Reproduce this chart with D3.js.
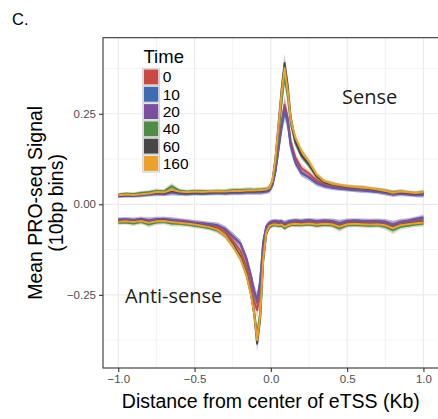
<!DOCTYPE html>
<html>
  <head>
        <meta charset="utf-8">
        <title>pro-seq etss</title>
        <style>
            body { margin: 0; background: #fff; }
        </style>
  </head>
  <body>
        <script src="https://cdn.jsdelivr.net/npm/d3@7"></script>
        <script>
            // x positions (Kb) shared by all series
            var xs = [-1.0, -0.95, -0.9, -0.85, -0.8, -0.75, -0.7, -0.65, -0.6, -0.55,
                      -0.5, -0.45, -0.4, -0.35, -0.3, -0.25, -0.2, -0.16, -0.13, -0.11,
                      -0.09, -0.07, -0.05, -0.03, -0.01, 0.01, 0.03, 0.05, 0.07, 0.09,
                      0.11, 0.13, 0.16, 0.2, 0.25, 0.3, 0.35, 0.4, 0.45, 0.5,
                      0.55, 0.6, 0.65, 0.7, 0.75, 0.8, 0.85, 0.9, 0.95, 1.0];

            var times = ["0", "10", "20", "40", "60", "160"];
            var colors = ["#c94a42", "#3d6bb4", "#7c509e", "#4f8d47", "#474747", "#eba12a"];

            // sense strand means
            var sense0 = [.026, .028, .027, .030, .031, .033, .032, .038, .033, .032,
                          .034, .033, .033, .034, .033, .035, .035, .036, .036, .036,
                          .036, .036, .037, .038, .041, .055, .095, .160, .225, .275,
                          .240, .175, .130, .100, .085, .066, .055, .050, .047, .045,
                          .043, .042, .040, .038, .034, .030, .033, .030, .028, .029];
            var sense10 = [.022, .023, .023, .025, .027, .029, .028, .033, .029, .028,
                           .030, .029, .030, .031, .030, .032, .032, .033, .033, .033,
                           .033, .033, .034, .035, .038, .052, .090, .150, .210, .255,
                           .225, .160, .115, .086, .074, .058, .050, .046, .043, .041,
                           .039, .038, .036, .034, .031, .027, .029, .027, .025, .026];
            var sense20 = [.023, .024, .024, .026, .028, .030, .029, .034, .030, .029,
                           .031, .030, .031, .032, .031, .033, .033, .034, .034, .034,
                           .034, .034, .035, .036, .039, .053, .092, .155, .220, .268,
                           .235, .165, .120, .088, .075, .060, .051, .047, .044, .042,
                           .040, .039, .037, .035, .032, .028, .030, .028, .026, .027];
            var sense40 = [.026, .029, .028, .031, .033, .037, .036, .050, .038, .035,
                           .037, .036, .035, .037, .036, .039, .039, .040, .040, .039,
                           .040, .040, .041, .042, .045, .062, .115, .195, .280, .355,
                           .300, .225, .170, .135, .108, .076, .060, .054, .051, .048,
                           .046, .044, .042, .040, .036, .032, .034, .032, .030, .032];
            var sense60 = [.024, .026, .025, .027, .029, .032, .031, .037, .033, .031,
                           .033, .032, .033, .034, .033, .035, .035, .036, .037, .036,
                           .037, .037, .038, .039, .043, .063, .125, .220, .315, .390,
                           .330, .240, .175, .135, .110, .078, .061, .055, .051, .048,
                           .046, .044, .042, .039, .035, .031, .033, .031, .029, .031];
            var sense160 = [.025, .027, .026, .028, .030, .034, .033, .040, .035, .033,
                            .035, .034, .035, .036, .035, .037, .037, .038, .039, .038,
                            .039, .039, .040, .041, .045, .065, .125, .215, .305, .376,
                            .315, .235, .185, .148, .118, .082, .064, .057, .053, .050,
                            .048, .046, .044, .041, .037, .032, .035, .033, .031, .033];

            // anti-sense strand means
            var anti0 = [-.045, -.044, -.046, -.043, -.048, -.044, -.043, -.046, -.048, -.050,
                         -.053, -.055, -.058, -.063, -.075, -.100, -.128, -.172, -.225, -.268,
                         -.292, -.250, -.125, -.068, -.055, -.050, -.049, -.051, -.050, -.056,
                         -.052, -.049, -.048, -.049, -.047, -.050, -.048, -.049, -.056, -.049,
                         -.048, -.049, -.050, -.049, -.052, -.060, -.052, -.049, -.046, -.043];
            var anti10 = [-.043, -.042, -.044, -.041, -.046, -.042, -.041, -.044, -.046, -.048,
                          -.051, -.053, -.055, -.058, -.068, -.088, -.108, -.150, -.198, -.238,
                          -.265, -.212, -.103, -.061, -.051, -.047, -.046, -.048, -.047, -.053,
                          -.049, -.046, -.045, -.046, -.044, -.047, -.045, -.046, -.053, -.046,
                          -.045, -.046, -.047, -.046, -.049, -.057, -.049, -.046, -.042, -.038];
            var anti20 = [-.042, -.041, -.043, -.040, -.045, -.041, -.040, -.043, -.045, -.047,
                          -.050, -.052, -.055, -.058, -.068, -.088, -.108, -.152, -.200, -.240,
                          -.272, -.215, -.105, -.062, -.052, -.047, -.046, -.048, -.047, -.053,
                          -.049, -.046, -.045, -.046, -.044, -.047, -.045, -.046, -.053, -.046,
                          -.045, -.046, -.047, -.046, -.048, -.056, -.048, -.045, -.040, -.036];
            var anti40 = [-.051, -.050, -.053, -.049, -.055, -.050, -.049, -.053, -.054, -.056,
                          -.059, -.062, -.066, -.072, -.086, -.112, -.145, -.190, -.245, -.295,
                          -.360, -.300, -.150, -.080, -.064, -.059, -.058, -.060, -.059, -.066,
                          -.061, -.058, -.057, -.058, -.056, -.059, -.057, -.058, -.066, -.058,
                          -.057, -.058, -.059, -.058, -.062, -.071, -.062, -.059, -.056, -.054];
            var anti60 = [-.047, -.046, -.048, -.045, -.050, -.046, -.045, -.048, -.050, -.052,
                          -.055, -.058, -.062, -.069, -.083, -.110, -.145, -.192, -.248, -.300,
                          -.385, -.318, -.155, -.080, -.061, -.055, -.054, -.056, -.055, -.061,
                          -.057, -.054, -.053, -.054, -.052, -.055, -.053, -.054, -.061, -.054,
                          -.053, -.054, -.055, -.054, -.057, -.065, -.057, -.054, -.051, -.048];
            var anti160 = [-.048, -.047, -.049, -.046, -.051, -.047, -.046, -.049, -.051, -.053,
                           -.056, -.059, -.063, -.070, -.085, -.115, -.150, -.195, -.250, -.300,
                           -.375, -.310, -.150, -.078, -.060, -.056, -.055, -.057, -.056, -.062,
                           -.058, -.055, -.054, -.055, -.053, -.056, -.054, -.055, -.062, -.055,
                           -.054, -.055, -.056, -.055, -.058, -.066, -.058, -.055, -.052, -.050];

            // standard error half-widths for the ribbons
            var seSense = [.005, .005, .005, .006, .006, .007, .006, .009, .006, .006,
                           .006, .006, .006, .006, .006, .007, .007, .007, .007, .007,
                           .007, .007, .007, .007, .008, .010, .014, .018, .022, .026,
                           .020, .016, .012, .010, .009, .008, .007, .007, .006, .006,
                           .006, .007, .006, .006, .007, .007, .007, .006, .006, .008];
            var seAnti = [.006, .006, .007, .006, .009, .007, .006, .008, .007, .007,
                          .007, .007, .007, .008, .009, .010, .011, .013, .015, .018,
                          .022, .018, .012, .008, .007, .006, .006, .007, .006, .008,
                          .007, .006, .006, .006, .006, .007, .006, .007, .010, .007,
                          .006, .007, .007, .007, .008, .011, .008, .007, .007, .008];

            var senseSeries = [sense0, sense10, sense20, sense40, sense60, sense160];
            var antiSeries = [anti0, anti10, anti20, anti40, anti60, anti160];

            var xTicks = [-1.0, -0.5, 0.0, 0.5, 1.0];
            var xMinor = [-0.75, -0.25, 0.25, 0.75];
            var yTicks = [-0.25, 0, 0.25];
            var yMinor = [-0.375, -0.125, 0.125, 0.375];

            var width = 438, height = 419;
            var panel = { left: 103, top: 37.7, right: 438.7, bottom: 368 };

            var svg = d3.select("body").append("svg")
                .attr("width", width)
                .attr("height", height);

            var x = d3.scaleLinear().domain([-1.1, 1.1]).range([panel.left, panel.right]);
            var y = d3.scaleLinear().domain([-0.452, 0.46]).range([panel.bottom, panel.top]);

            // grid
            var grid = svg.append("g");
            grid.selectAll(".xminor").data(xMinor).enter().append("line")
                .attr("x1", d => x(d)).attr("x2", d => x(d))
                .attr("y1", panel.top).attr("y2", panel.bottom)
                .style("stroke", "#f0f0f0").style("stroke-width", 0.8);
            grid.selectAll(".yminor").data(yMinor).enter().append("line")
                .attr("x1", panel.left).attr("x2", panel.right)
                .attr("y1", d => y(d)).attr("y2", d => y(d))
                .style("stroke", "#f0f0f0").style("stroke-width", 0.8);
            grid.selectAll(".xmajor").data(xTicks).enter().append("line")
                .attr("x1", d => x(d)).attr("x2", d => x(d))
                .attr("y1", panel.top).attr("y2", panel.bottom)
                .style("stroke", "#ebebeb").style("stroke-width", 1.2);
            grid.selectAll(".ymajor").data(yTicks).enter().append("line")
                .attr("x1", panel.left).attr("x2", panel.right)
                .attr("y1", d => y(d)).attr("y2", d => y(d))
                .style("stroke", "#ebebeb").style("stroke-width", 1.2);

            var area = function(se) {
                return d3.area()
                    .x((d, i) => x(xs[i]))
                    .y0((d, i) => y(d - se[i]))
                    .y1((d, i) => y(d + se[i]));
            };
            var line = d3.line().x((d, i) => x(xs[i])).y(d => y(d));

            var plot = svg.append("g");
            // ribbons first, then the mean lines
            [[senseSeries, seSense], [antiSeries, seAnti]].forEach(function(s) {
                plot.append("g").selectAll("path")
                    .data(s[0]).enter().append("path")
                    .attr("d", area(s[1]))
                    .style("fill", (d, i) => colors[i])
                    .style("opacity", 0.28);
            });
            [senseSeries, antiSeries].forEach(function(s) {
                plot.append("g").selectAll("path")
                    .data(s).enter().append("path")
                    .attr("d", line)
                    .style("fill", "none")
                    .style("stroke", (d, i) => colors[i])
                    .style("stroke-width", 2)
                    .style("stroke-linejoin", "round");
            });

            // panel border
            svg.append("rect")
                .attr("x", panel.left).attr("y", panel.top)
                .attr("width", panel.right - panel.left)
                .attr("height", panel.bottom - panel.top)
                .style("fill", "none").style("stroke", "#333").style("stroke-width", 1.1);

            // axes
            var xAxis = svg.append("g")
                .attr("transform", "translate(0," + panel.bottom + ")")
                .call(d3.axisBottom(x).tickValues(xTicks).tickSize(4).tickPadding(3)
                    .tickFormat(d => d3.format(".1f")(d).replace("-", "\u2212")));
            var yAxis = svg.append("g")
                .attr("transform", "translate(" + panel.left + ",0)")
                .call(d3.axisLeft(y).tickValues(yTicks).tickSize(4).tickPadding(3)
                    .tickFormat(d => d3.format(".2f")(d).replace("-", "\u2212")));
            [xAxis, yAxis].forEach(function(a) {
                a.select(".domain").remove();
                a.selectAll("line").style("stroke", "#333").style("stroke-width", 1.1);
                a.selectAll("text")
                    .style("font-family", "Liberation Sans, Arial, sans-serif")
                    .style("font-size", "11.5px")
                    .style("fill", "#4d4d4d");
            });

            var sans = "Liberation Sans, Arial, sans-serif";

            svg.append("text")
                .attr("x", (panel.left + panel.right) / 2).attr("y", 408)
                .attr("text-anchor", "middle")
                .style("font-family", sans).style("font-size", "19.5px")
                .text("Distance from center of eTSS (Kb)");

            var yTitle = svg.append("text")
                .attr("transform", "translate(42," + (panel.top + panel.bottom) / 2 + ") rotate(-90)")
                .attr("text-anchor", "middle")
                .style("font-family", sans).style("font-size", "19.5px");
            yTitle.append("tspan").attr("x", 0).attr("dy", 0).text("Mean PRO-seq Signal");
            yTitle.append("tspan").attr("x", 0).attr("dy", 21).text("(10bp bins)");

            svg.append("text")
                .attr("x", 12).attr("y", 25)
                .style("font-family", sans).style("font-size", "16.5px")
                .text("C.");

            // strand labels
            svg.append("text")
                .attr("x", 342).attr("y", 104)
                .style("font-family", "Open Sans, sans-serif").style("font-size", "20px")
                .style("fill", "#231f20")
                .text("Sense");
            svg.append("text")
                .attr("x", 125).attr("y", 303)
                .style("font-family", "Open Sans, sans-serif").style("font-size", "20px")
                .style("fill", "#231f20")
                .text("Anti-sense");

            // legend
            var legend = svg.append("g");
            legend.append("text")
                .attr("x", 143.5).attr("y", 63.3)
                .style("font-family", sans).style("font-size", "18.5px")
                .text("Time");
            var keyH = 17.3;
            var keys = legend.selectAll(".key").data(times).enter().append("g")
                .attr("transform", (d, i) => "translate(142.7," + (68.3 + i * keyH) + ")");
            keys.append("rect")
                .attr("width", 16.8).attr("height", keyH)
                .style("fill", "#f2f2f2").style("stroke", "#cfcfcf").style("stroke-width", 1);
            keys.append("rect")
                .attr("x", 1.2).attr("y", 1.2)
                .attr("width", 14.4).attr("height", keyH - 2.4)
                .style("fill", (d, i) => colors[i]);
            keys.append("text")
                .attr("x", 20).attr("y", keyH / 2 + 5.5)
                .style("font-family", sans).style("font-size", "15.5px")
                .text(d => d);
        </script>
    </body>
</html>
